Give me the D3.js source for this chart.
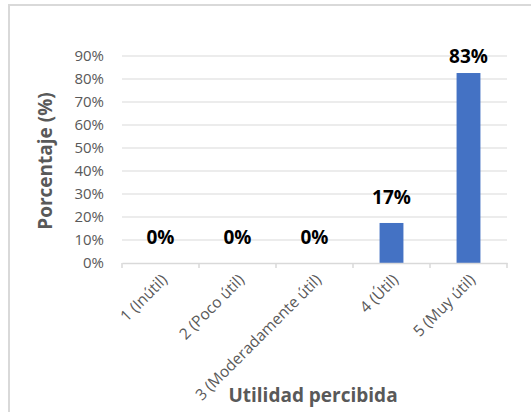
<!DOCTYPE html>
<html><head><meta charset="utf-8">
<script src="https://cdn.jsdelivr.net/npm/d3@7"></script>
<style>body{margin:0;background:#fff}svg{display:block}</style>
</head><body>
<svg id="c" width="531" height="412"></svg>
<script>
const categories = ["1 (Inútil)", "2 (Poco útil)", "3 (Moderadamente útil)", "4 (Útil)", "5 (Muy útil)"];
const values = [0, 0, 0, 17.4, 82.6];
const yTicks = [0, 10, 20, 30, 40, 50, 60, 70, 80, 90];
const yTitle = "Porcentaje (%)";
const xTitle = "Utilidad percibida";

const svg = d3.select("#c");
const font = "'Open Sans', sans-serif";
const gray = "#595959";
const gridC = "#d9d9d9";

svg.append("rect").attr("x", 9).attr("y", 5).attr("width", 700).attr("height", 600)
  .attr("fill", "#fff").attr("stroke", gridC).attr("stroke-width", 2);

const L = 122, R = 507, T = 56, B = 263;
const x = d3.scaleBand().domain(categories).range([L, R]).paddingInner(0.69).paddingOuter(0.345);
const xb = d3.scaleBand().domain(categories).range([L, R]);
const y = d3.scaleLinear().domain([0, 90]).range([B, T]);

// gridlines
svg.append("g").selectAll("line").data(yTicks.filter(t => t > 0)).join("line")
  .attr("x1", L).attr("x2", R).attr("y1", d => y(d)).attr("y2", d => y(d))
  .attr("stroke", gridC).attr("stroke-width", 1.2);

// y axis labels
const ya = svg.append("g").attr("transform", `translate(${L},0)`)
  .call(d3.axisLeft(y).tickValues(yTicks).tickSize(0).tickPadding(18).tickFormat(d => d + "%"));
ya.select(".domain").remove();
ya.selectAll("text").attr("fill", gray).style("font-family", font).style("font-size", "15px");

// bars
svg.append("g").selectAll("rect").data(values).join("rect")
  .attr("x", (d, i) => x(categories[i])).attr("width", x.bandwidth())
  .attr("y", d => y(d)).attr("height", d => B - y(d)).attr("fill", "#4472C4");

// x axis
const xa = svg.append("g").attr("transform", `translate(0,${B})`)
  .call(d3.axisBottom(xb).tickSize(0).tickFormat(""));
xa.select(".domain").attr("stroke", gridC).attr("stroke-width", 1.5);
const bounds = categories.map(c => xb(c)).concat([R]);
xa.append("g").selectAll("line").data(bounds).join("line")
  .attr("x1", d => d).attr("x2", d => d).attr("y1", 0).attr("y2", 5)
  .attr("stroke", gridC).attr("stroke-width", 1.5);

// x tick labels
svg.append("g").selectAll("text").data(categories).join("text")
  .attr("transform", c => `translate(${xb(c) + xb.bandwidth() / 2 + 4},${B + 14}) rotate(-45)`)
  .attr("text-anchor", "end").attr("dy", "0.35em")
  .attr("fill", gray).style("font-family", font).style("font-size", "15.5px")
  .text(c => c);

// data labels
svg.append("g").selectAll("text").data(values).join("text")
  .attr("x", (d, i) => xb(categories[i]) + xb.bandwidth() / 2)
  .attr("y", d => Math.max(y(d) - 19, 63))
  .attr("text-anchor", "middle").attr("fill", "#000")
  .style("font-family", font).style("font-size", "19px").style("font-weight", "bold")
  .text(d => d3.format(".0f")(d) + "%");

// titles
svg.append("text").attr("transform", `translate(52,161) rotate(-90)`)
  .attr("text-anchor", "middle").attr("fill", gray)
  .style("font-family", font).style("font-size", "19px").style("font-weight", "bold")
  .text(yTitle);
svg.append("text").attr("x", 313).attr("y", 402)
  .attr("text-anchor", "middle").attr("fill", gray)
  .style("font-family", font).style("font-size", "19px").style("font-weight", "bold")
  .text(xTitle);
</script>
</body></html>
